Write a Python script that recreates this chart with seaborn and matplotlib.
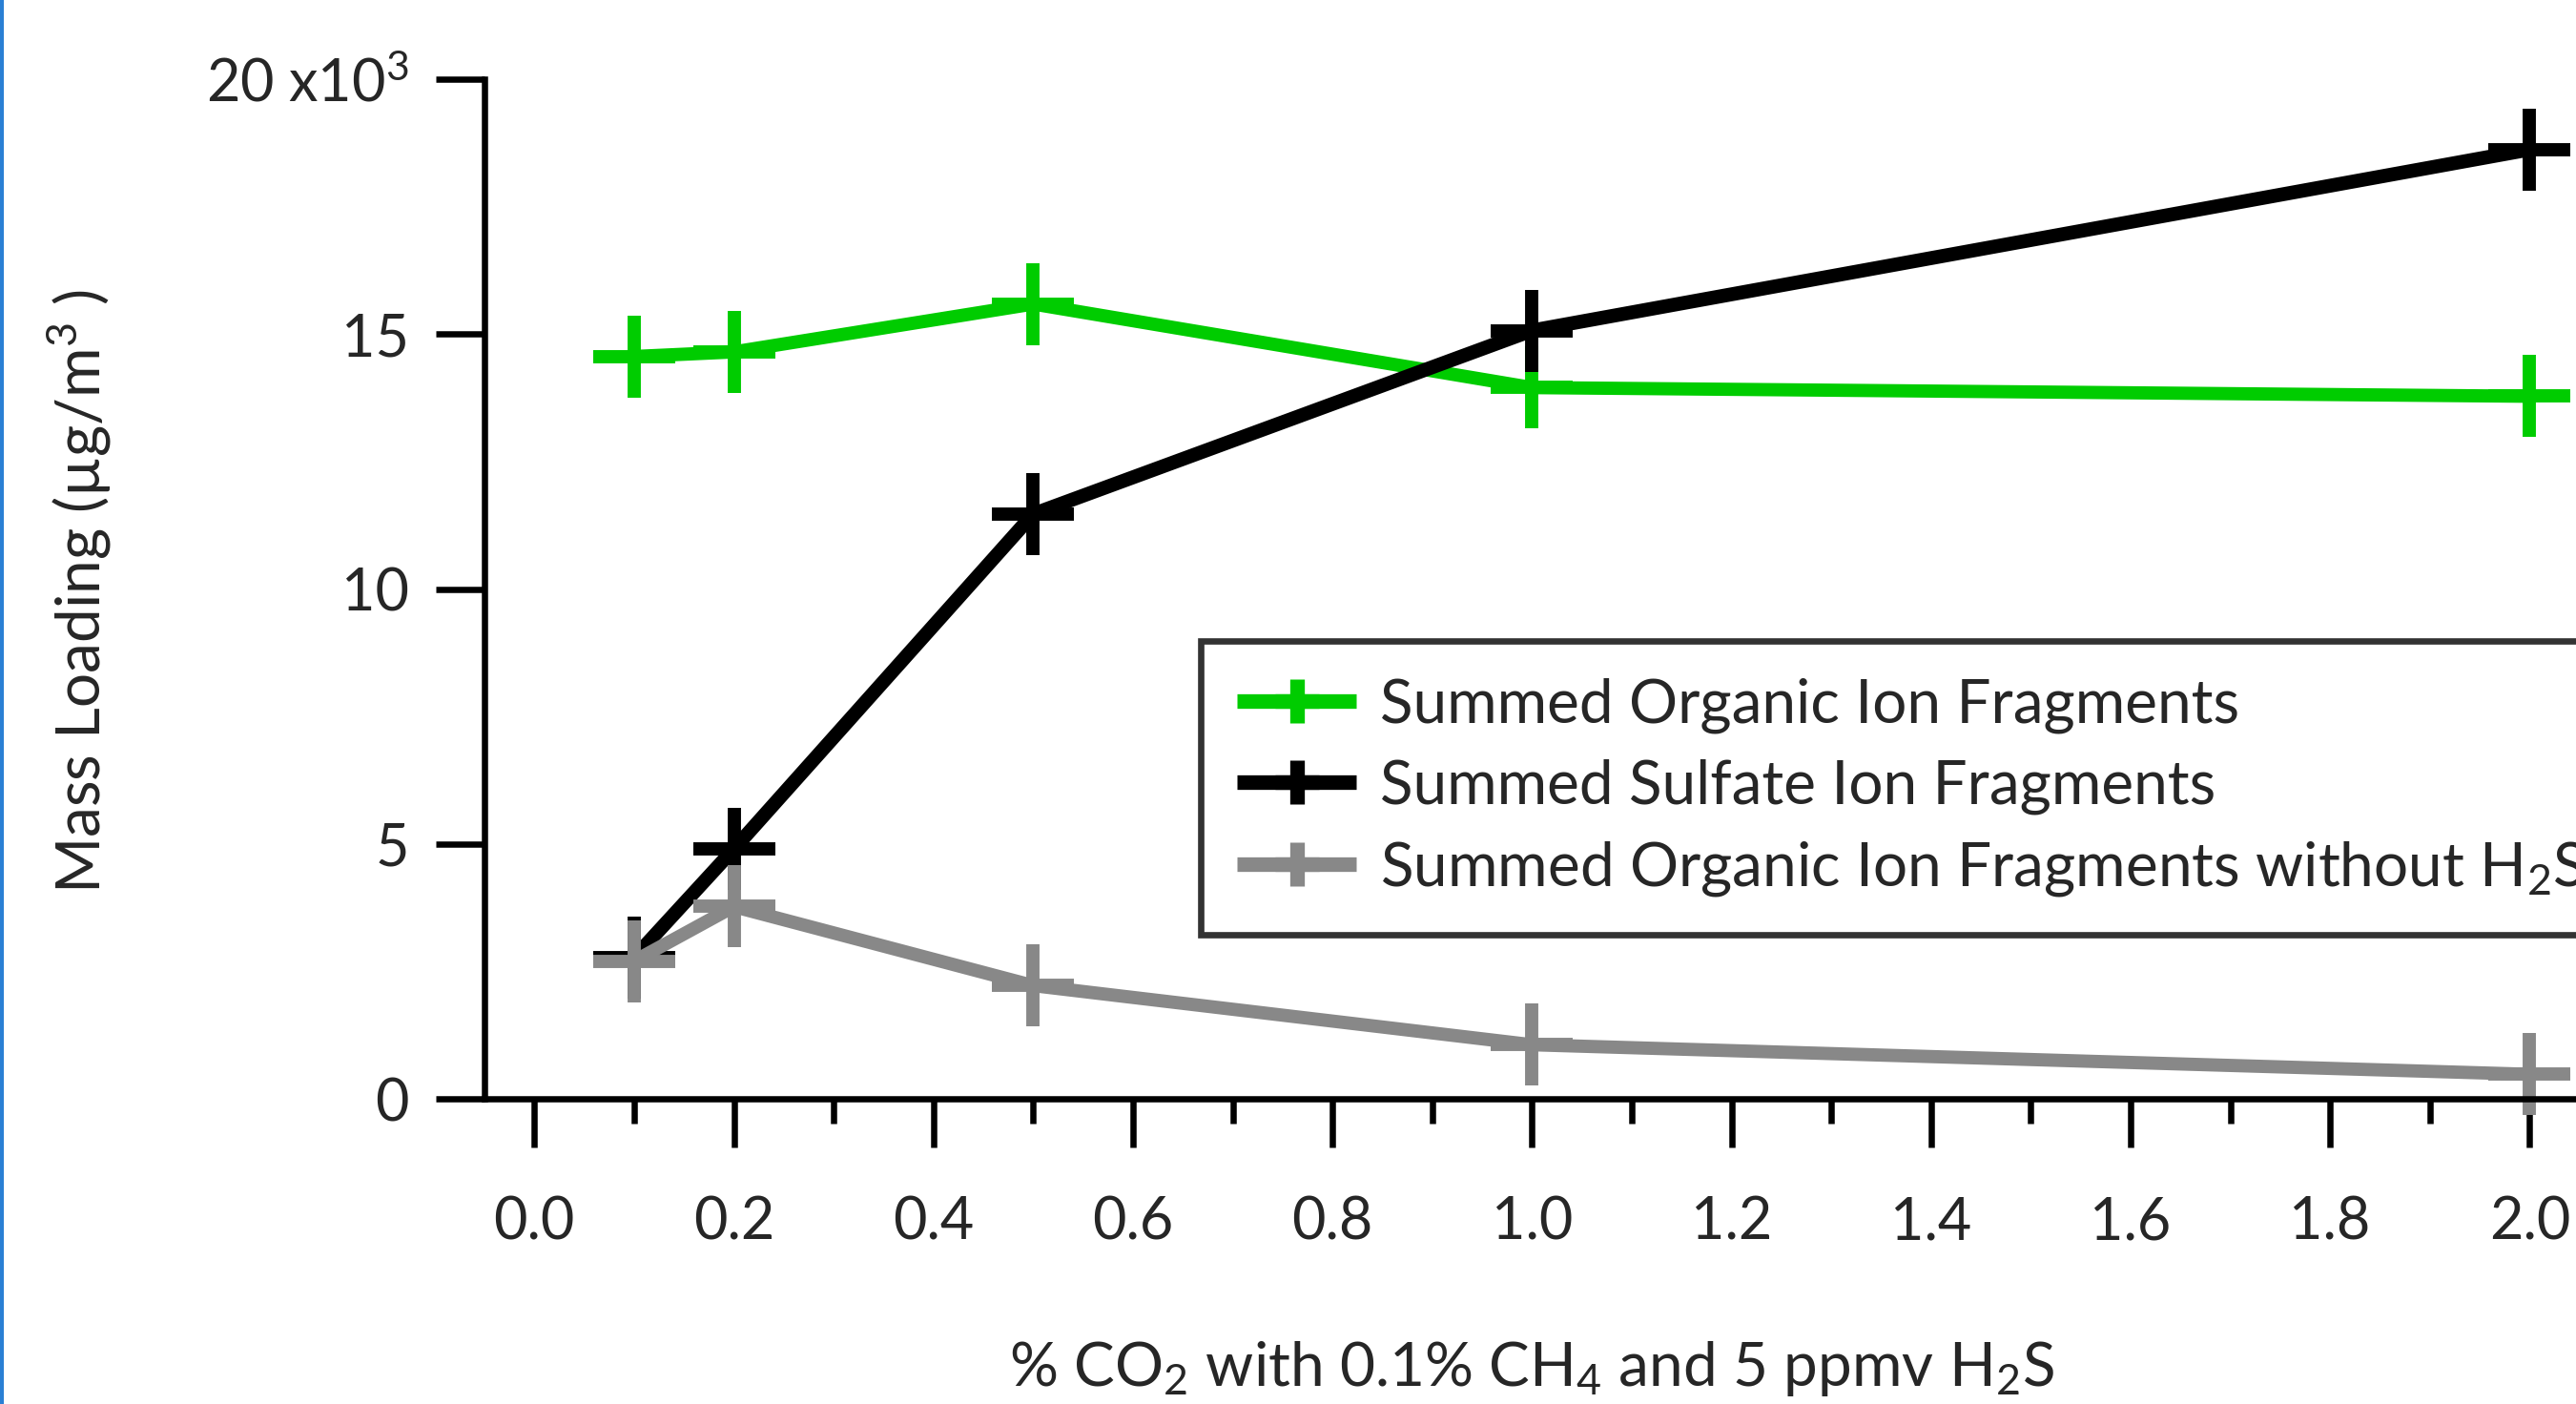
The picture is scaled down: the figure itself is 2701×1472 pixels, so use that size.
import numpy as np
import pandas as pd
import matplotlib
matplotlib.use("Agg")
import matplotlib.pyplot as plt
import seaborn as sns
from matplotlib.ticker import FixedLocator, FixedFormatter, MultipleLocator
from matplotlib.patches import Rectangle

# Percent CO2 in the gas mixture
co2_pct = [0.1, 0.2, 0.5, 1.0, 2.0]

# Mass loadings (µg/m³)
organic = [14560, 14650, 15590, 13950, 13780]
sulfate = [2770, 4900, 11470, 15070, 18620]
organic_no_h2s = [2700, 3770, 2220, 1060, 480]

series_names = [
    "Summed Organic Ion Fragments",
    "Summed Sulfate Ion Fragments",
    "Summed Organic Ion Fragments without H$_2$S",
]
series_colors = ["#00cc00", "#000000", "#888888"]
series_widths = [10.0, 10.5, 10.0]

y_ticks = [0, 5000, 10000, 15000, 20000]
y_tick_labels = ["0", "5", "10", "15", "20 x10$^{3}$"]
x_ticks = [0.0, 0.2, 0.4, 0.6, 0.8, 1.0, 1.2, 1.4, 1.6, 1.8, 2.0]
x_tick_labels = ["0.0", "0.2", "0.4", "0.6", "0.8", "1.0", "1.2", "1.4", "1.6", "1.8", "2.0"]

x_label = "% CO$_2$ with 0.1% CH$_4$ and 5 ppmv H$_2$S"
y_label = "Mass Loading (µg/m$^{3}$ )"

df = pd.concat(
    [
        pd.DataFrame({"co2": co2_pct, "mass": vals, "series": name})
        for name, vals in zip(series_names, [organic, sulfate, organic_no_h2s])
    ],
    ignore_index=True,
)

sns.set_style("white")
plt.rcParams["font.family"] = ["Lato", "DejaVu Sans"]
plt.rcParams["mathtext.default"] = "regular"

W, H = 2701, 1472
fig = plt.figure(figsize=(W / 100, H / 100), dpi=100)
fig.patch.set_facecolor("white")

# axes box in pixel geometry
left_px, right_px, top_px, bottom_px = 508, 2757, 83, 1152
ax = fig.add_axes([left_px / W, 1 - bottom_px / H,
                   (right_px - left_px) / W, (bottom_px - top_px) / H])

for name, color, lw in zip(series_names, series_colors, series_widths):
    sub = df[df["series"] == name]
    sns.lineplot(data=sub, x="co2", y="mass", ax=ax, color=color, linewidth=lw,
                 marker="+", markersize=62, markeredgewidth=10,
                 markeredgecolor=color, markerfacecolor=color,
                 label=name, sort=False, clip_on=False, estimator=None)

for line in ax.get_lines():
    line.set_solid_joinstyle("miter")
    line.set_solid_capstyle("butt")

ax.set_xlim(-0.05, 2.1)
ax.set_ylim(0, 20000)

ax.xaxis.set_major_locator(FixedLocator(x_ticks))
ax.xaxis.set_major_formatter(FixedFormatter(x_tick_labels))
ax.xaxis.set_minor_locator(MultipleLocator(0.1))
ax.yaxis.set_major_locator(FixedLocator(y_ticks))
ax.yaxis.set_major_formatter(FixedFormatter(y_tick_labels))

for side in ["top", "right"]:
    ax.spines[side].set_visible(False)
for side in ["left", "bottom"]:
    ax.spines[side].set_linewidth(4.7)
    ax.spines[side].set_color("black")

ax.tick_params(axis="y", which="major", direction="out", length=37, width=4.7,
               pad=20, labelsize=44, color="black", left=True)
ax.tick_params(axis="x", which="major", direction="out", length=37, width=4.7,
               pad=36, labelsize=44, color="black", bottom=True)
ax.tick_params(axis="x", which="minor", direction="out", length=19, width=4.7,
               color="black", bottom=True)
ax.set_xlabel("")
ax.set_ylabel("")

fig.text(1606 / W, 1 - 1435 / H, x_label, ha="center", va="center", fontsize=46)
fig.text(83 / W, 1 - 620 / H, y_label, ha="center", va="center",
         rotation=90, fontsize=46)

leg = ax.legend(loc="upper left", bbox_to_anchor=(1259 / W, 1 - 672 / H),
                bbox_transform=fig.transFigure, borderaxespad=0, fontsize=46,
                frameon=True, fancybox=False, edgecolor="black",
                handlelength=1.95, handletextpad=0.4, borderpad=0.6,
                labelspacing=0.41)
leg.get_frame().set_linewidth(4.8)
for h in leg.legend_handles:
    h.set_linewidth(11)
    h.set_markersize(33)
    h.set_markeredgewidth(11)

# thin blue border on the left edge
fig.add_artist(Rectangle((0, 0), 4 / W, 1, transform=fig.transFigure,
                         facecolor="#2a7fd4", edgecolor="none"))

fig.savefig("out.png", dpi=100)
